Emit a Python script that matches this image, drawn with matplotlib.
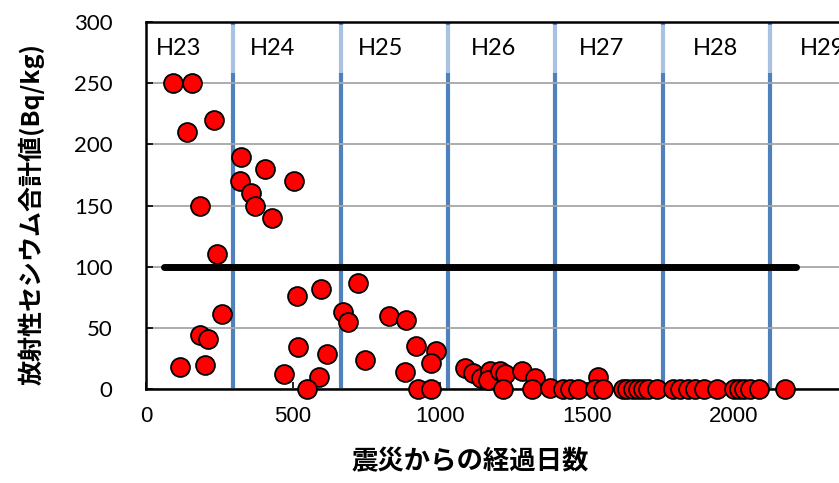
import numpy as np
import matplotlib.pyplot as plt

# days since the quake, total radioactive cesium (Bq/kg)
days = [91, 156, 231, 140, 324, 406, 321, 502, 357, 182,
        371, 428, 241, 513, 596, 721, 257, 671, 688, 826,
        886, 182, 212, 518, 616, 746, 117, 202, 469, 589,
        547, 918, 988, 969, 882, 926, 971,
        1085, 1113, 1139, 1170, 1163, 1204, 1221, 1215, 1278, 1323, 1312,
        1374, 1420, 1442, 1471, 1537, 1528, 1553,
        1624, 1635, 1658, 1675, 1692, 1709, 1737,
        1794, 1817, 1845, 1868, 1897, 1942,
        1999, 2016, 2033, 2056, 2084, 2172]
cesium = [250, 250, 220, 210, 190, 180, 170, 170, 160, 150,
          150, 140, 110, 76, 82, 87, 61, 63, 55, 60,
          56, 44, 41, 34, 29, 24, 18, 20, 12, 10,
          0, 35, 31, 21, 14, 0, 0,
          17, 13, 9, 15, 7, 15, 12, 0, 15, 9, 0,
          1, 0, 0, 0, 10, 0, 0,
          0, 0, 0, 0, 0, 0, 0,
          0, 0, 0, 0, 0, 0,
          0, 0, 0, 0, 0, 0]

# standard limit line
limit_x = [61, 2211]
limit_y = [100, 100]

# new-year boundaries and year labels
year_lines = [296, 662, 1027, 1392, 1757, 2123]
year_labels = ["H23", "H24", "H25", "H26", "H27", "H28", "H29"]
label_x = [34, 354, 721, 1105, 1473, 1861, 2224]

fig = plt.figure(figsize=(8.39, 4.83), dpi=100)
ax = fig.add_axes([146 / 839, 94 / 483, 735 / 839, 367 / 483])

ax.set_xlim(0, 2500)
ax.set_ylim(0, 300)

ax.set_yticks(range(0, 301, 50))
ax.set_xticks(range(0, 2001, 500))
ax.grid(axis="y", color="#A6A6A6", lw=1.3, zorder=0)

for xv in year_lines:
    ax.plot([xv, xv], [0, 258.5], color="#4F81BD", lw=3, zorder=1, solid_capstyle="butt")
    ax.plot([xv, xv], [258.5, 297.5], color="#A9C2E2", lw=3, zorder=1, solid_capstyle="butt")
    ax.plot([xv, xv], [297.5, 300], color="#4F81BD", lw=3, zorder=1, solid_capstyle="butt")

for lx, lab in zip(label_x, year_labels):
    ax.text(lx, 278, lab, fontsize=17, family="Lato", ha="left", va="center",
            clip_on=False, zorder=2)

ax.plot(limit_x, limit_y, color="black", lw=5, zorder=2, solid_capstyle="round")

ax.scatter(days, cesium, s=185, color="red", edgecolors="black", linewidths=1.3,
           zorder=3, clip_on=False)

for side in ["left", "bottom", "top"]:
    ax.spines[side].set_color("black")
    ax.spines[side].set_linewidth(1.8)
ax.spines["right"].set_visible(False)

ax.tick_params(axis="y", direction="in", length=5, width=1.2, pad=24)
ax.tick_params(axis="x", direction="in", length=5, width=1.2, pad=12)
for t in ax.get_yticklabels():
    t.set_family("Lato")
    t.set_fontsize(16)
for t in ax.get_xticklabels():
    t.set_family("Liberation Sans")
    t.set_fontsize(16)

fig.text(470 / 839, 1 - 462 / 483, "震災からの経過日数", fontsize=19, fontweight="bold",
         family=["Noto Sans CJK JP", "DejaVu Sans"], ha="center", va="center")
fig.text(31 / 839, 1 - 214 / 483, "放射性セシウム合計値(Bq/kg)", fontsize=18, fontweight="bold",
         family=["Noto Sans CJK JP", "DejaVu Sans"], ha="center", va="center", rotation=90)

fig.savefig("out.png", dpi=100)
